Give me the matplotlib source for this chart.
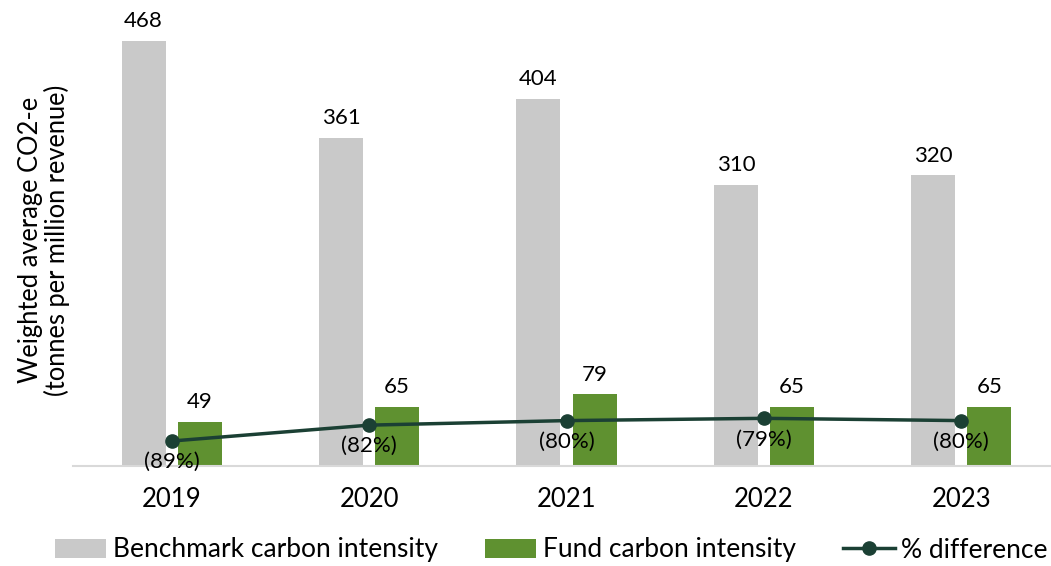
import matplotlib

matplotlib.use("Agg")
import matplotlib.pyplot as plt
import numpy as np

plt.rcParams["font.family"] = ["Lato", "DejaVu Sans"]

years = ["2019", "2020", "2021", "2022", "2023"]
benchmark = [468, 361, 404, 310, 320]
fund = [49, 65, 79, 65, 65]
pct_diff = [-89, -82, -80, -79, -80]

GRAY = "#c9c9c9"
GREEN = "#5f9130"
LINE = "#1b4034"

fig = plt.figure(figsize=(10.51, 5.66), dpi=100)
ax = fig.add_axes([73 / 1051, 100 / 566, 987 / 1051, 454 / 566])

x = np.arange(len(years))
width = 0.223
off = 0.142
b1 = ax.bar(x - off, benchmark, width, color=GRAY, label="Benchmark carbon intensity")
b2 = ax.bar(x + off, fund, width, color=GREEN, label="Fund carbon intensity")

for rects, vals in [(b1, benchmark), (b2, fund)]:
    for r, v in zip(rects, vals):
        ax.annotate(f"{v}", (r.get_x() + r.get_width() / 2, v), xytext=(0, 7),
                    textcoords="offset points", ha="center", va="bottom", fontsize=16)

ax.set_ylim(0, 500)
ax.set_xlim(-0.5, len(years) - 0.5)
ax.set_yticks([])
ax.set_xticks(x, years, fontsize=18.5)
ax.tick_params(axis="x", length=0, pad=15)
for s in ["top", "right", "left"]:
    ax.spines[s].set_visible(False)
ax.spines["bottom"].set_color("#d9d9d9")
ax.spines["bottom"].set_linewidth(1.5)

ax2 = ax.twinx()
(ln,) = ax2.plot(x, pct_diff, color=LINE, linewidth=2.5, marker="o", markersize=9.5,
                 label="% difference")
ax2.set_ylim(-100, 100)
ax2.axis("off")
for xi, v in zip(x, pct_diff):
    ax2.annotate(f"({abs(v)}%)", (xi, v), xytext=(0, -8), textcoords="offset points",
                 ha="center", va="top", fontsize=16)

fig.text(44 / 1051, 1 - 240 / 566, "Weighted average CO2-e\n(tonnes per million revenue)",
         rotation=90, ha="center", va="center", multialignment="center", fontsize=18.4,
         linespacing=1.0)

fig.legend(handles=[b1, b2, ln], loc="center left", bbox_to_anchor=(55 / 1051, 1 - 550 / 566),
           ncol=3, frameon=False, fontsize=19, handlelength=1.95, handletextpad=0.23,
           columnspacing=1.8, borderaxespad=0, borderpad=0)

fig.savefig("out.png", dpi=100)
